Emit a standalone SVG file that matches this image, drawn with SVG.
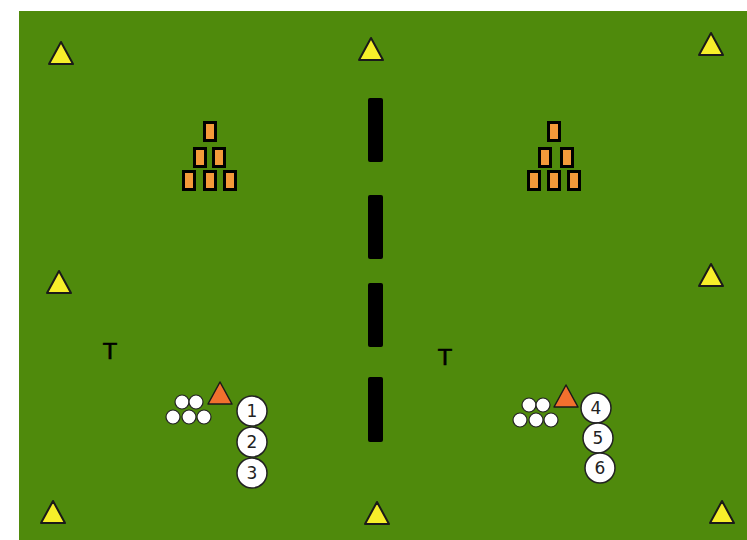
<svg xmlns="http://www.w3.org/2000/svg" width="747" height="540" viewBox="0 0 747 540">
<style>
.cone{fill:#f7ef2a;stroke:#1a1a1a;stroke-width:2;stroke-linejoin:round}
.ocone{fill:#f2702e;stroke:#1a1a1a;stroke-width:1.5;stroke-linejoin:round}
.blk{fill:#f49a3a;stroke:#000;stroke-width:3}
.bar{fill:#000}
.ball{fill:#fff;stroke:#222;stroke-width:1.2}
.pl{fill:#fff;stroke:#222;stroke-width:1.5}
.num{font-family:"DejaVu Sans",Verdana,sans-serif;font-size:17px;fill:#222;text-anchor:middle}
.t{font-family:"DejaVu Sans",Verdana,sans-serif;font-size:22px;fill:#000;stroke:#000;stroke-width:0.6;text-anchor:middle}
</style>
<defs>
<path id="tri" d="M0,0 L12,22 L-12,22 Z"/>
</defs>
<rect x="0" y="0" width="747" height="540" fill="#fff"/>
<rect id="field" x="19" y="11" width="728" height="529" fill="#4f8a0c"/>
<g id="cones">
<use href="#tri" class="cone" x="61" y="42"/>
<use href="#tri" class="cone" x="371" y="38"/>
<use href="#tri" class="cone" x="711" y="33"/>
<use href="#tri" class="cone" x="59" y="271"/>
<use href="#tri" class="cone" x="711" y="264"/>
<use href="#tri" class="cone" x="53" y="501"/>
<use href="#tri" class="cone" x="377" y="502"/>
<use href="#tri" class="cone" x="722" y="501"/>
</g>
<g id="bars">
<rect class="bar" x="368" y="98" width="15" height="64" rx="2"/>
<rect class="bar" x="368" y="195" width="15" height="64" rx="2"/>
<rect class="bar" x="368" y="283" width="15" height="64" rx="2"/>
<rect class="bar" x="368" y="377" width="15" height="65" rx="2"/>
</g>
<g id="blocks-left">
<rect class="blk" x="204.5" y="122.5" width="11" height="18"/>
<rect class="blk" x="194.5" y="148.5" width="11" height="18"/>
<rect class="blk" x="213.5" y="148.5" width="11" height="18"/>
<rect class="blk" x="183.5" y="171.5" width="11" height="18"/>
<rect class="blk" x="204.5" y="171.5" width="11" height="18"/>
<rect class="blk" x="224.5" y="171.5" width="11" height="18"/>
</g>
<g id="blocks-right">
<rect class="blk" x="548.5" y="122.5" width="11" height="18"/>
<rect class="blk" x="539.5" y="148.5" width="11" height="18"/>
<rect class="blk" x="561.5" y="148.5" width="11" height="18"/>
<rect class="blk" x="528.5" y="171.5" width="11" height="18"/>
<rect class="blk" x="548.5" y="171.5" width="11" height="18"/>
<rect class="blk" x="568.5" y="171.5" width="11" height="18"/>
</g>
<g id="t-left"><text class="t" x="110" y="359">T</text></g>
<g id="t-right"><text class="t" x="445" y="365">T</text></g>
<g id="balls-left">
<circle class="ball" cx="182" cy="402" r="7"/>
<circle class="ball" cx="196" cy="402" r="7"/>
<circle class="ball" cx="173" cy="417" r="7"/>
<circle class="ball" cx="189" cy="417" r="7"/>
<circle class="ball" cx="204" cy="417" r="7"/>
</g>
<g id="balls-right">
<circle class="ball" cx="529" cy="405" r="7"/>
<circle class="ball" cx="543" cy="405" r="7"/>
<circle class="ball" cx="520" cy="420" r="7"/>
<circle class="ball" cx="536" cy="420" r="7"/>
<circle class="ball" cx="551" cy="420" r="7"/>
</g>
<g id="coach-left"><use href="#tri" class="ocone" x="220" y="382"/></g>
<g id="coach-right"><use href="#tri" class="ocone" x="566" y="385"/></g>
<g id="p1"><circle class="pl" cx="252" cy="411" r="15"/><text class="num" x="252" y="417">1</text></g>
<g id="p2"><circle class="pl" cx="252" cy="442" r="15"/><text class="num" x="252" y="448">2</text></g>
<g id="p3"><circle class="pl" cx="252" cy="473" r="15"/><text class="num" x="252" y="479">3</text></g>
<g id="p4"><circle class="pl" cx="596" cy="408" r="15"/><text class="num" x="596" y="414">4</text></g>
<g id="p5"><circle class="pl" cx="598" cy="438" r="15"/><text class="num" x="598" y="444">5</text></g>
<g id="p6"><circle class="pl" cx="600" cy="468" r="15"/><text class="num" x="600" y="474">6</text></g>
</svg>
